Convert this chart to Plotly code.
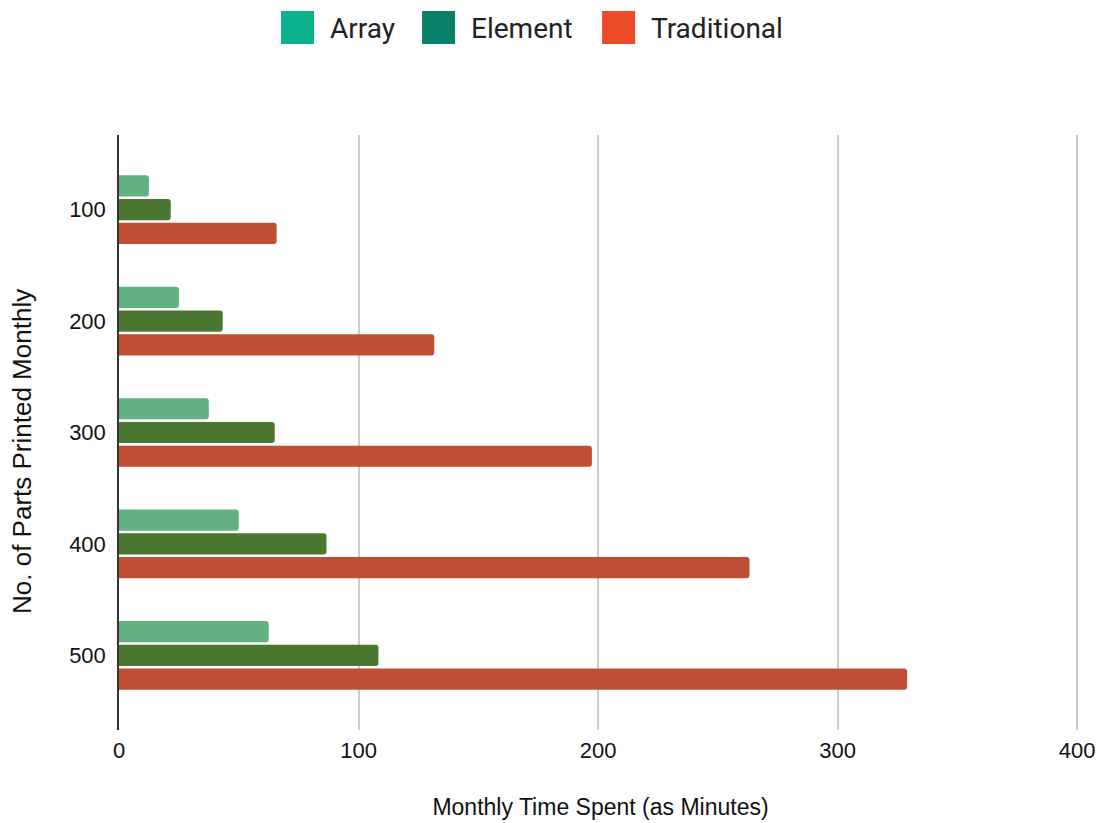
import plotly.graph_objects as go

# Parts printed per month (category axis, top to bottom)
parts = ["100", "200", "300", "400", "500"]

# Monthly time spent in minutes for each workflow
array_minutes = [12.5, 25, 37.5, 50, 62.5]
element_minutes = [21.6, 43.3, 65, 86.6, 108.3]
traditional_minutes = [65.8, 131.6, 197.4, 263.2, 329]

x_ticks = [0, 100, 200, 300, 400]

series_names = ["Array", "Element", "Traditional"]
bar_colors = ["#63b083", "#4a762f", "#bf4e34"]
key_colors = ["#0ab28d", "#08806a", "#ed4b28"]

W, H = 1098, 823
X_MAX = 402
ML, MT, MB = 119, 135, 93
PW = (1077 - ML) * X_MAX / 400.0
MR = W - ML - PW
PH = H - MT - MB

fig = go.Figure()
for name, vals, col in zip(series_names,
                           [array_minutes, element_minutes, traditional_minutes],
                           bar_colors):
    fig.add_trace(go.Bar(
        y=parts, x=vals, name=name, orientation="h",
        marker=dict(color=col, line=dict(width=0), cornerradius=3),
        showlegend=False,
    ))


def px_x(p):
    return (p - ML) / PW


def px_y(q):
    return (H - MB - q) / PH


# Custom key above the plot with large swatches
key_left = [281, 422, 602]
shapes = []
annotations = []
for name, col, left in zip(series_names, key_colors, key_left):
    shapes.append(dict(type="rect", xref="paper", yref="paper",
                       x0=px_x(left), x1=px_x(left + 33),
                       y0=px_y(44), y1=px_y(11),
                       fillcolor=col, line=dict(width=0), layer="above"))
    annotations.append(dict(xref="paper", yref="paper",
                            x=px_x(left + 47), y=px_y(29),
                            xanchor="left", yanchor="middle",
                            text=name, showarrow=False,
                            font=dict(family="Roboto", size=28, color="#222222")))

# Vertical axis title
annotations.append(dict(xref="paper", yref="paper",
                        x=px_x(22), y=px_y(451),
                        xanchor="center", yanchor="middle",
                        text="No. of Parts Printed Monthly", textangle=-90,
                        showarrow=False,
                        font=dict(size=26, color="#111111")))

fig.update_layout(
    width=W, height=H,
    margin=dict(l=ML, r=MR, t=MT, b=MB, pad=0),
    paper_bgcolor="white", plot_bgcolor="white",
    barmode="group", bargap=0.36, bargroupgap=0.11,
    shapes=shapes, annotations=annotations,
    showlegend=False,
    font=dict(family="Liberation Sans, Arial, sans-serif", size=22, color="#111111"),
    xaxis=dict(
        range=[0, X_MAX], tickvals=x_ticks, ticktext=[str(t) for t in x_ticks],
        showgrid=True, gridcolor="#cccccc", gridwidth=1.5,
        zeroline=False, showline=False, ticks="", automargin=False,
        tickfont=dict(size=22), ticklabelstandoff=5,
        title=dict(text="Monthly Time Spent (as Minutes)", font=dict(size=23), standoff=36),
    ),
    yaxis=dict(
        categoryorder="array", categoryarray=parts,
        range=[4.67, -0.67], automargin=False,
        showgrid=False, showline=True, linecolor="#333333", linewidth=1.5,
        ticks="", tickfont=dict(size=22), ticklabelstandoff=7,
    ),
)

fig.write_html("out.html")
